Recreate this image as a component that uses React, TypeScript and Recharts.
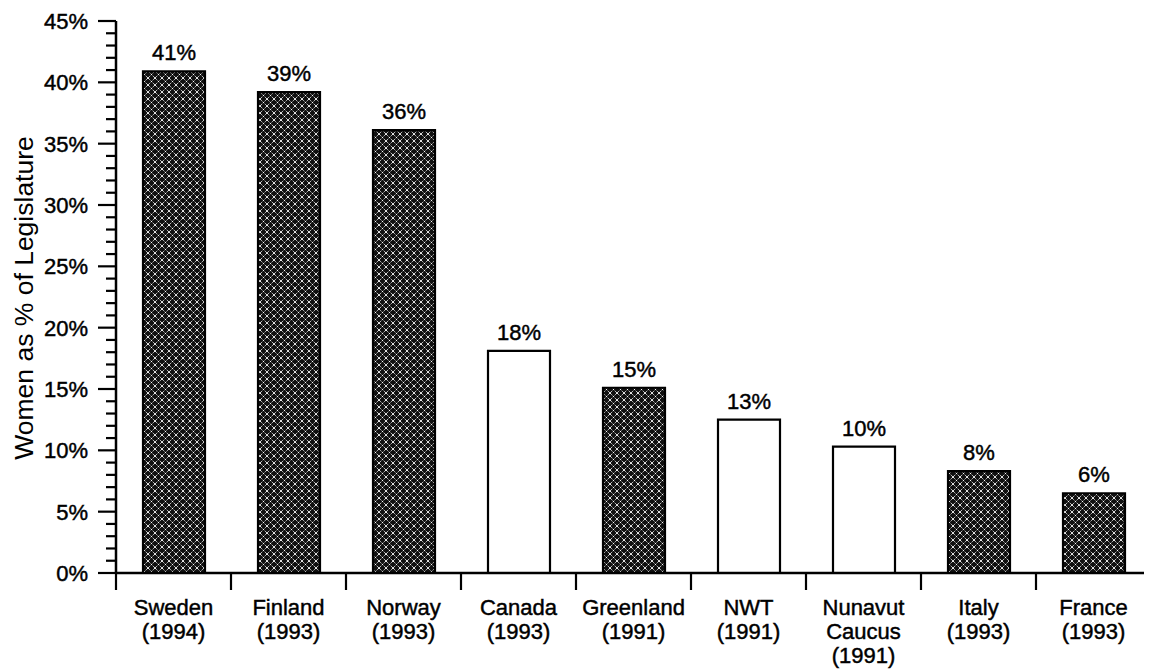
import React from "react";
import { BarChart, Bar, XAxis, YAxis, Cell, LabelList } from "recharts";

const categories = ["Sweden", "Finland", "Norway", "Canada", "Greenland", "NWT", "Nunavut", "Italy", "France"];
const categoryLines = [
  ["Sweden", "(1994)"],
  ["Finland", "(1993)"],
  ["Norway", "(1993)"],
  ["Canada", "(1993)"],
  ["Greenland", "(1991)"],
  ["NWT", "(1991)"],
  ["Nunavut", "Caucus", "(1991)"],
  ["Italy", "(1993)"],
  ["France", "(1993)"],
];
const values = [40.9, 39.2, 36.1, 18.1, 15.1, 12.5, 10.3, 8.3, 6.5];
const valueLabels = ["41%", "39%", "36%", "18%", "15%", "13%", "10%", "8%", "6%"];
const shaded = [true, true, true, false, true, false, false, true, true];
const yTicks = Array.from({ length: 46 }, (_, i) => i);
const yMajorStep = 5;
const yTitle = "Women as % of Legislature";

const FONT = "'Liberation Sans', Arial, Helvetica, sans-serif";
const TXT = { fontFamily: FONT, fill: "#000", stroke: "#000", strokeWidth: 0.45 };

const data = categories.map((c, i) => ({
  name: c,
  value: values[i],
  label: valueLabels[i],
  lines: categoryLines[i],
  shaded: shaded[i],
}));

const YTick = (props: any) => {
  const { x, y, payload } = props;
  const v = payload.value as number;
  const major = v % yMajorStep === 0;
  return (
    <g>
      <line x1={x - (major ? 18 : 10)} x2={x} y1={y} y2={y} stroke="#000" strokeWidth={2.2} />
      {major && (
        <text x={x - 28} y={y} dy="0.36em" textAnchor="end" fontSize={22} {...TXT}>
          {`${v}%`}
        </text>
      )}
    </g>
  );
};

const XTick = (props: any) => {
  const { x, y, payload, index } = props;
  const half = payload && payload.offset ? payload.offset : 57.4;
  const lines = categoryLines[index] || [String(payload.value)];
  return (
    <g>
      <line x1={x - half} x2={x - half} y1={y} y2={y + 17} stroke="#000" strokeWidth={2.2} />
      {index === categories.length - 1 && (
        <line x1={x + half} x2={x + half} y1={y} y2={y + 17} stroke="#000" strokeWidth={2.2} />
      )}
      {lines.map((t: string, i: number) => (
        <text key={i} x={x} y={y + 42 + i * 24} textAnchor="middle" fontSize={22} {...TXT}>
          {t}
        </text>
      ))}
    </g>
  );
};

const YTitle = (props: any) => {
  const vb = props.viewBox || { x: 0, y: 13, width: 108, height: 552 };
  const cx = vb.x + 16;
  const cy = vb.y + vb.height / 2 + 1;
  return (
    <text
      x={cx}
      y={cy}
      transform={`rotate(-90, ${cx}, ${cy})`}
      textAnchor="middle"
      dominantBaseline="central"
      fontSize={26.5}
      fontFamily={FONT}
      fill="#000"
    >
      {yTitle}
    </text>
  );
};

export default function App() {
  return (
    <div style={{ width: 1144, height: 661 }}>
      <BarChart
        width={1144}
        height={661}
        data={data}
        margin={{ top: 13, right: 1, left: 0, bottom: 0 }}
        barSize={62}
      >
        <defs>
          <pattern id="hatch" patternUnits="userSpaceOnUse" width="7" height="7">
            <rect x="0" y="0" width="7" height="7" fill="#111" />
            <path d="M0,0 L7,7 M7,0 L0,7" stroke="#ffffff" strokeWidth="1" strokeDasharray="2.4 1.3" strokeOpacity="0.9" />
          </pattern>
        </defs>
        <XAxis
          dataKey="name"
          type="category"
          height={96}
          interval={0}
          tickLine={false}
          tickSize={0}
          tickMargin={0}
          axisLine={{ stroke: "#000", strokeWidth: 2.5 }}
          tick={<XTick />}
        />
        <YAxis
          type="number"
          domain={[0, 45]}
          ticks={yTicks}
          interval={0}
          width={108}
          tickLine={false}
          tickSize={0}
          tickMargin={0}
          axisLine={{ stroke: "#000", strokeWidth: 2.5 }}
          tick={<YTick />}
          allowDecimals={false}
          label={<YTitle />}
        />
        <Bar dataKey="value" isAnimationActive={false} stroke="#000" strokeWidth={2.2}>
          {data.map((d, i) => (
            <Cell key={i} fill={d.shaded ? "url(#hatch)" : "#ffffff"} />
          ))}
          <LabelList
            dataKey="label"
            position="top"
            offset={11}
            fontSize={22}
            fontFamily={FONT}
            fill="#000"
            stroke="#000"
            strokeWidth={0.45}
          />
        </Bar>
      </BarChart>
    </div>
  );
}
